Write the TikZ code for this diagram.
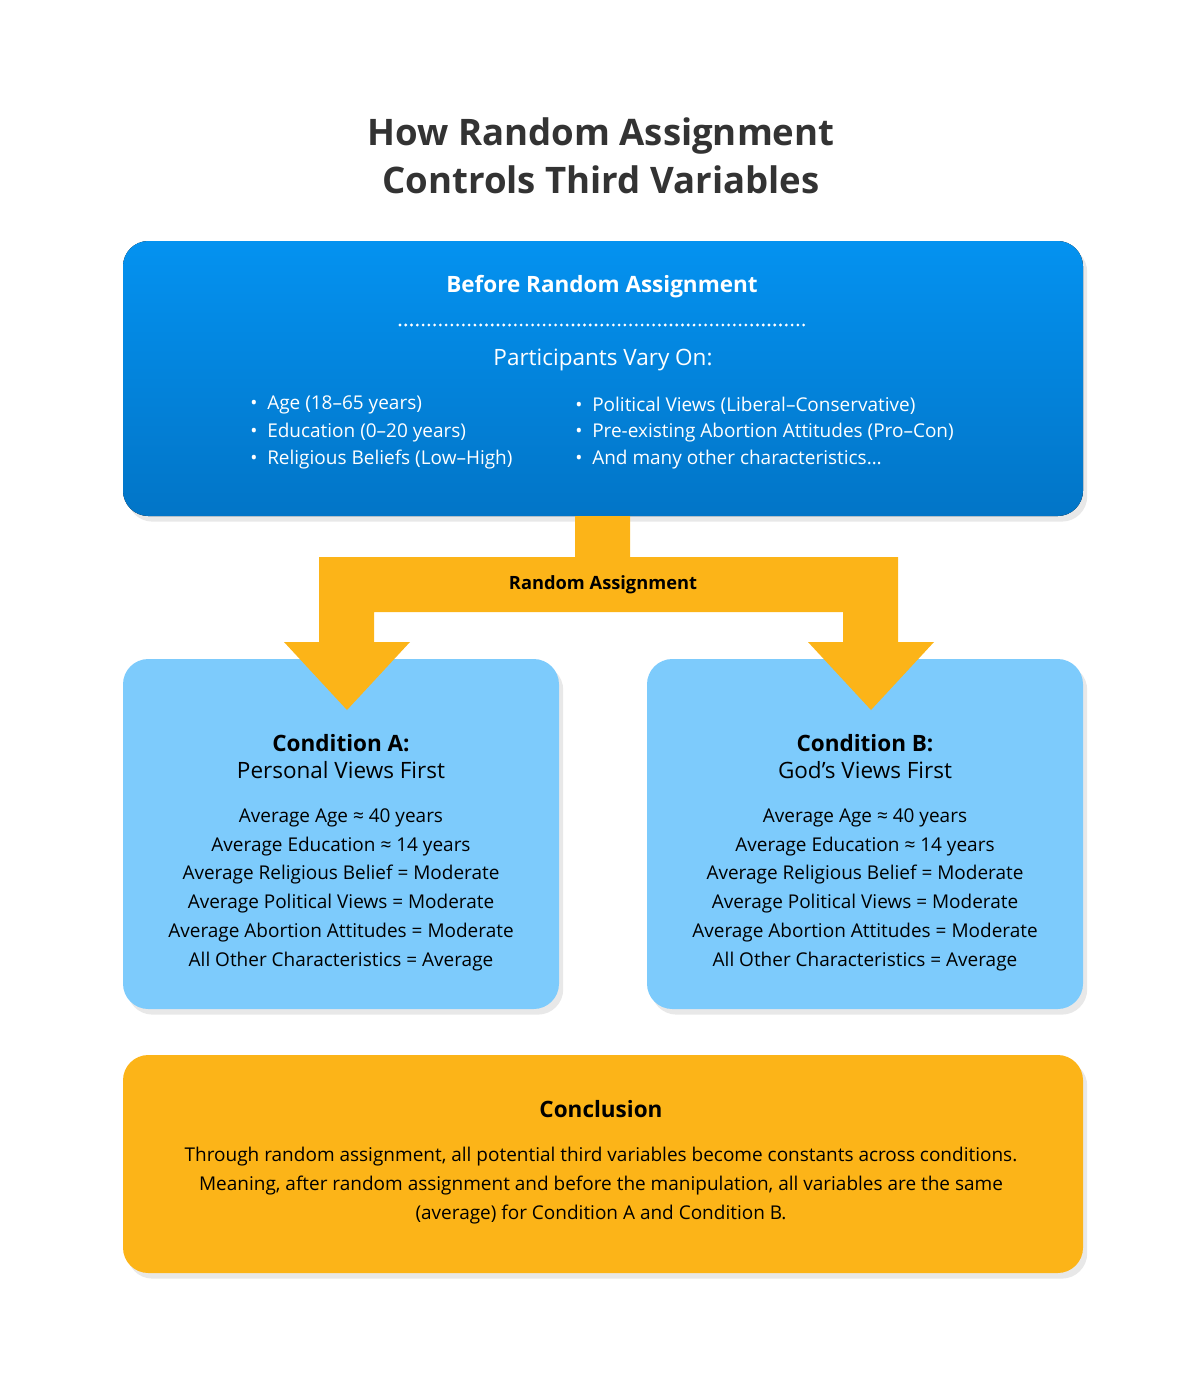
\documentclass[tikz,border=0pt]{standalone}
\usepackage{fontspec}
\setmainfont{Open Sans}
\usetikzlibrary{positioning,shadows,calc}
\definecolor{titlegray}{RGB}{51,51,51}
\definecolor{bluetop}{RGB}{4,146,240}
\definecolor{bluebot}{RGB}{2,117,199}
\definecolor{lightblue}{RGB}{125,203,252}
\definecolor{gold}{RGB}{252,180,24}
\tikzset{
  panel/.style={rounded corners=18pt, drop shadow={shadow xshift=3pt,shadow yshift=-4pt,opacity=0.18}},
  txt/.style={font=\fontsize{13.5}{16}\selectfont, inner sep=0pt},
  head/.style={font=\fontsize{16}{19}\selectfont\bfseries, inner sep=0pt}
}
\begin{document}
\begin{tikzpicture}[x=0.025cm,y=-0.025cm]
\useasboundingbox (0,0) rectangle (1200,1396);
% title
\node[font=\fontsize{26}{34}\selectfont\bfseries, text=titlegray, align=center] (title) at (601,156) {How Random Assignment\\Controls Third Variables};
% before box
\fill[panel, top color=bluetop, bottom color=bluebot] (123,241) rectangle (1083,516);
\node[head, text=white] (before) at (602,287) {Before Random Assignment};
\draw[white, line width=2.2pt, line cap=round, dash pattern=on 0pt off 4.1pt] (400,325) -- (806,325);
\node[txt, text=white, font=\fontsize{16}{19}\selectfont] (vary) at (603,360) {Participants Vary On:};
\foreach \t [count=\i] in {Age (18--65 years), Education (0--20 years), Religious Beliefs (Low--High)}
  \node[txt, text=white, anchor=west] (l\i) at (250,{378+27.3*\i}) {•\hspace{7pt}\t};
\foreach \t [count=\i] in {Political Views (Liberal--Conservative), Pre-existing Abortion Attitudes (Pro--Con), And many other characteristics…}
  \node[txt, text=white, anchor=west] (r\i) at (575,{378+27.3*\i}) {•\hspace{7pt}\t};
% conditions
\fill[panel, lightblue] (123,659) rectangle (559,1009);
\fill[panel, lightblue] (647,659) rectangle (1083,1009);
\foreach \n/\x/\l/\s in {A/341/A/Personal Views First, B/865/B/God’s Views First}{
  \node[head, font=\fontsize{16}{19}\selectfont\bfseries] (cond\n) at (\x,743) {Condition \l:};
  \node[txt, font=\fontsize{16}{19}\selectfont] (sub\n) at (\x,770) {\s};
  \node[txt, align=center, font=\fontsize{13.5}{20.6}\selectfont, anchor=north] (list\n) at (\x,808) {Average Age ≈ 40 years\\Average Education ≈ 14 years\\Average Religious Belief = Moderate\\Average Political Views = Moderate\\Average Abortion Attitudes = Moderate\\All Other Characteristics = Average};
}
% random assignment split arrow
\fill[gold] (575,516) -- (630,516) -- (630,557) -- (898,557) -- (898,642) -- (934,642) -- (871,710)
  -- (808,642) -- (843,642) -- (843,612) -- (374,612) -- (374,642) -- (410,642) -- (347,710)
  -- (284,642) -- (319,642) -- (319,557) -- (575,557) -- cycle;
\node[txt, font=\fontsize{13}{16}\selectfont\bfseries] (rand) at (603,585) {Random Assignment};
% conclusion
\fill[panel, gold] (123,1055) rectangle (1083,1273);
\node[head] (concl) at (601,1109) {Conclusion};
\node[txt, align=center, font=\fontsize{13.5}{20.6}\selectfont, anchor=north] (concltext) at (601,1147) {Through random assignment, all potential third variables become constants across conditions.\\Meaning, after random assignment and before the manipulation, all variables are the same\\(average) for Condition A and Condition B.};
\end{tikzpicture}
\end{document}
